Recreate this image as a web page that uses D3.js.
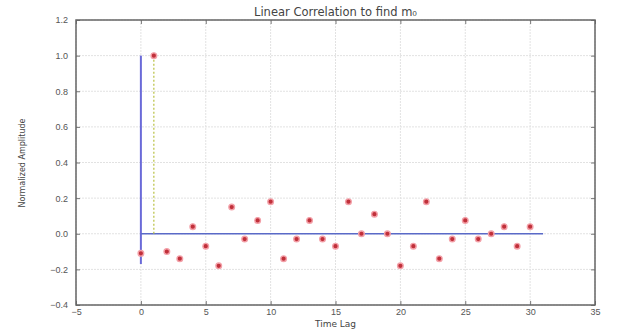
<!DOCTYPE html>
<html>
<head>
<meta charset="utf-8">
<script src="https://cdn.jsdelivr.net/npm/d3@7"></script>
<style>
    body { margin: 0; background: #fff; }
    svg { display: block; font-family: "DejaVu Sans", sans-serif; }
</style>
</head>
<body>
<svg id="chart" width="622" height="329"></svg>
<script>
var lags = d3.range( 0, 31 ),
    amplitude = [ -0.11, 1.0, -0.10, -0.14, 0.04, -0.07, -0.18, 0.15, -0.03, 0.075,
                  0.18, -0.14, -0.03, 0.075, -0.03, -0.07, 0.18, 0.0, 0.11, 0.0,
                  -0.18, -0.07, 0.18, -0.14, -0.03, 0.075, -0.03, 0.0, 0.04, -0.07, 0.04 ],
    xTicks = [ -5, 0, 5, 10, 15, 20, 25, 30, 35 ],
    yTicks = [ -0.4, -0.2, 0.0, 0.2, 0.4, 0.6, 0.8, 1.0, 1.2 ],
    zeroStem = [ -0.17, 1.0 ],   // blue vertical line at lag 0
    baseline = [ 0, 31 ],        // blue horizontal line at 0
    peakStem = [ 0, 1.0 ];       // dotted stem at lag 1

var svg = d3.select( '#chart' ),
    box = { left: 76, right: 595, top: 20, bottom: 305 },
    x = d3.scaleLinear().domain( [ -5, 35 ] ).range( [ box.left, box.right ] ),
    y = d3.scaleLinear().domain( [ -0.4, 1.2 ] ).range( [ box.bottom, box.top ] );

// grid
svg.append( 'g' ).selectAll( 'line' ).data( xTicks ).join( 'line' )
    .attr( 'x1', d => x(d) ).attr( 'x2', d => x(d) )
    .attr( 'y1', box.top ).attr( 'y2', box.bottom )
    .attr( 'stroke', '#e2e2e2' ).attr( 'stroke-width', 1 ).attr( 'stroke-dasharray', '2,1' );
svg.append( 'g' ).selectAll( 'line' ).data( yTicks ).join( 'line' )
    .attr( 'x1', box.left ).attr( 'x2', box.right )
    .attr( 'y1', d => y(d) ).attr( 'y2', d => y(d) )
    .attr( 'stroke', '#e2e2e2' ).attr( 'stroke-width', 1 ).attr( 'stroke-dasharray', '2,1' );

// axes, ticks pointing in
var fmt = d3.format( '.1f' ),
    minus = s => s.replace( '-', '\u2212' );
svg.append( 'g' ).attr( 'transform', 'translate(0,' + box.bottom + ')' )
    .call( d3.axisBottom( x ).tickValues( xTicks ).tickSize( -4 ).tickPadding( 4 ).tickFormat( d => minus( String( d ) ) ) );
svg.append( 'g' ).attr( 'transform', 'translate(0,' + box.top + ')' )
    .call( d3.axisTop( x ).tickValues( xTicks ).tickSize( -4 ).tickFormat( '' ) );
svg.append( 'g' ).attr( 'transform', 'translate(' + box.left + ',0)' )
    .call( d3.axisLeft( y ).tickValues( yTicks ).tickSize( -4 ).tickPadding( 8 ).tickFormat( d => minus( fmt( d ) ) ) );
svg.append( 'g' ).attr( 'transform', 'translate(' + box.right + ',0)' )
    .call( d3.axisRight( y ).tickValues( yTicks ).tickSize( -4 ).tickFormat( '' ) );

svg.selectAll( '.domain' ).remove();
svg.selectAll( '.tick line' ).attr( 'stroke', '#777' );
svg.selectAll( '.tick text' ).attr( 'fill', '#555' ).style( 'font-size', '9px' );

svg.append( 'rect' )
    .attr( 'x', box.left ).attr( 'y', box.top )
    .attr( 'width', box.right - box.left ).attr( 'height', box.bottom - box.top )
    .attr( 'fill', 'none' ).attr( 'stroke', '#666' ).attr( 'stroke-width', 1.5 );

// lines
svg.append( 'line' )
    .attr( 'x1', x(0) ).attr( 'x2', x(0) )
    .attr( 'y1', y( zeroStem[0] ) ).attr( 'y2', y( zeroStem[1] ) )
    .attr( 'stroke', '#6a6ad8' ).attr( 'stroke-width', 2 );
svg.append( 'line' )
    .attr( 'x1', x( baseline[0] ) ).attr( 'x2', x( baseline[1] ) )
    .attr( 'y1', y(0) ).attr( 'y2', y(0) )
    .attr( 'stroke', '#5a6ac8' ).attr( 'stroke-width', 1.3 );
svg.append( 'line' )
    .attr( 'x1', x(1) ).attr( 'x2', x(1) )
    .attr( 'y1', y( peakStem[0] ) ).attr( 'y2', y( peakStem[1] ) )
    .attr( 'stroke', '#b8c040' ).attr( 'stroke-width', 1.2 ).attr( 'stroke-dasharray', '2,2' );

// points
svg.append( 'g' ).selectAll( 'circle' ).data( lags ).join( 'circle' )
    .attr( 'cx', d => x(d) )
    .attr( 'cy', (d, i) => y( amplitude[i] ) )
    .attr( 'r', 2.8 )
    .attr( 'fill', '#c0303a' )
    .attr( 'stroke', '#f3a0a8' ).attr( 'stroke-width', 1.4 );

// labels
svg.append( 'text' )
    .attr( 'x', ( box.left + box.right ) / 2 ).attr( 'y', 16 )
    .attr( 'text-anchor', 'middle' )
    .style( 'font-size', '11.5px' ).attr( 'fill', '#444' )
    .text( 'Linear Correlation to find m\u2080' );
svg.append( 'text' )
    .attr( 'x', ( box.left + box.right ) / 2 ).attr( 'y', 327 )
    .attr( 'text-anchor', 'middle' )
    .style( 'font-size', '9px' ).attr( 'fill', '#444' )
    .text( 'Time Lag' );
svg.append( 'text' )
    .attr( 'transform', 'translate(25,163) rotate(-90)' )
    .attr( 'text-anchor', 'middle' )
    .style( 'font-size', '8px' ).attr( 'fill', '#444' )
    .text( 'Normalized Amplitude' );
</script>
</body>
</html>
